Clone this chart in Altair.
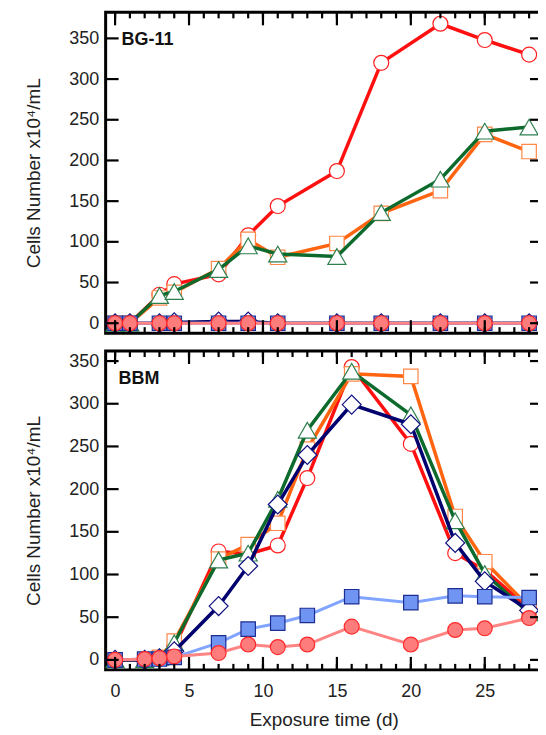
import altair as alt
import pandas as pd

# ---------------- data ----------------
days_bg11 = [0, 1, 3, 4, 7, 9, 11, 15, 18, 22, 25, 28]
bg11_red = [0, 0, 35, 48, 60, 108, 144, 187, 320, 368, 348, 330]
bg11_orange = [0, 0, 31, 38, 67, 103, 81, 98, 135, 163, 232, 211]
bg11_green = [0, 0, 34, 39, 66, 95, 85, 82, 136, 177, 236, 241]
bg11_navy = [0, 0, 0, 1, 2, 2, 0, 0, 0, 0, 0, 0]
bg11_blue = [0, 0, 0, 0, 0, 0, 0, 0, 0, 0, 0, 0]
bg11_pink = [0, 0, 0, 0, 0, 0, 0, 0, 0, 0, 0, 0]

days_bbm = [0, 2, 3, 4, 7, 9, 11, 13, 16, 20, 23, 25, 28]
bbm_red = [0, 0, 2, 15, 127, 124, 134, 213, 343, 253, 125, 105, 60]
bbm_orange = [0, 0, 3, 22, 118, 135, 160, 247, 335, 332, 168, 115, 62]
bbm_green = [0, 0, 3, 20, 117, 125, 188, 269, 338, 287, 163, 101, 55]
bbm_navy = [0, 0, 2, 10, 63, 110, 182, 240, 299, 276, 137, 92, 58]
bbm_blue = [0, 1, 1, 3, 20, 36, 43, 52, 74, 67, 75, 74, 73]
bbm_pink = [0, 1, 2, 4, 8, 18, 15, 18, 39, 18, 35, 37, 49]

x_ticks_minor = list(range(0, 29))
x_ticks_major = [0, 5, 10, 15, 20, 25]
y_ticks = [0, 50, 100, 150, 200, 250, 300, 350]

panel_labels = ["BG-11", "BBM"]
x_title = "Exposure time (d)"
y_title = "Cells Number x10\u2074/mL"

# ---------------- styles ----------------
FONT = "Liberation Sans"
W = 438
H_TOP = 322
H_BOT = 320
X_DOMAIN = [-0.64, 28.87]

STYLES = [
    # name, line colour, line width, shape, size, fill, stroke
    ("red", "#FF1010", 3.5, "circle", 225, "white", "#FF2020"),
    ("orange", "#FF6410", 3.5, "square", 210, "white", "#FF8848"),
    ("green", "#0C6A2C", 3.5, "triangle-up", 330, "white", "#2E7F4E"),
    ("navy", "#00006E", 3.5, "diamond", 360, "white", "#101080"),
    ("blue", "#80A4FF", 3.0, "square", 210, "#7094F2", "#1C2C90"),
    ("pink", "#FF8585", 3.0, "circle", 225, "#FF7C7C", "#FF2A2A"),
]


def frame_df(days, series_lists):
    rows = []
    for (name, *_), vals in zip(STYLES, series_lists):
        for d, v in zip(days, vals):
            rows.append({"day": d, "value": v, "series": name})
    return pd.DataFrame(rows)


def panel(df, ydomain, height, label, label_x, show_x):
    x_axis = (
        alt.Axis(values=x_ticks_major, ticks=False, tickSize=0, domain=False, grid=False,
                 labelFont=FONT, labelFontSize=18, labelColor="#222", labelPadding=13,
                 title=x_title, titleFont=FONT, titleFontSize=19, titleFontWeight="normal",
                 titleColor="#222", titlePadding=10)
        if show_x else None
    )
    y_axis = alt.Axis(values=y_ticks, ticks=False, tickSize=0, domain=False, grid=False,
                      labelFont=FONT, labelFontSize=18, labelColor="#222", labelPadding=7,
                      title=y_title, titleFont=FONT, titleFontSize=19, titleFontWeight="normal",
                      titleColor="#222", titlePadding=25)
    xe = alt.X("day:Q", scale=alt.Scale(domain=X_DOMAIN, nice=False, zero=False), axis=x_axis)
    ye = alt.Y("value:Q", scale=alt.Scale(domain=ydomain, nice=False, zero=False), axis=y_axis)

    layers = []
    for name, lc, lw, shape, size, fill, stroke in STYLES:
        d = df[df["series"] == name]
        layers.append(alt.Chart(d).mark_line(color=lc, strokeWidth=lw).encode(x=xe, y=ye))
        layers.append(
            alt.Chart(d).mark_point(shape=shape, size=size, filled=True, fill=fill, stroke=stroke,
                                    strokeWidth=1.2, opacity=1, fillOpacity=1).encode(x=xe, y=ye)
        )

    minor = pd.DataFrame({"day": x_ticks_minor})
    major = pd.DataFrame({"day": x_ticks_major})
    yt = pd.DataFrame({"value": y_ticks})
    tick_style = dict(color="black", strokeWidth=2.2)
    layers += [
        alt.Chart(minor).mark_rule(**tick_style).encode(x=xe, y=alt.value(height), y2=alt.value(height - 6)),
        alt.Chart(major).mark_rule(**tick_style).encode(x=xe, y=alt.value(height), y2=alt.value(height - 13)),
        alt.Chart(minor).mark_rule(**tick_style).encode(x=xe, y=alt.value(0), y2=alt.value(6)),
        alt.Chart(major).mark_rule(**tick_style).encode(x=xe, y=alt.value(0), y2=alt.value(13)),
        alt.Chart(yt).mark_rule(**tick_style).encode(y=ye, x=alt.value(0), x2=alt.value(13)),
        alt.Chart(yt).mark_rule(**tick_style).encode(y=ye, x=alt.value(W), x2=alt.value(W - 12)),
    ]
    lab = pd.DataFrame({"label": [label]})
    layers.append(
        alt.Chart(lab).mark_text(align="left", baseline="middle", font=FONT, fontSize=18,
                                 fontWeight="bold", color="#111")
        .encode(text="label:N", x=alt.value(label_x), y=alt.value(28))
    )
    return alt.layer(*layers).properties(width=W, height=height)


top_df = frame_df(days_bg11, [bg11_red, bg11_orange, bg11_green, bg11_navy, bg11_blue, bg11_pink])
bot_df = frame_df(days_bbm, [bbm_red, bbm_orange, bbm_green, bbm_navy, bbm_blue, bbm_pink])

top = panel(top_df, [-12.2, 382], H_TOP, panel_labels[0], 16, False)
bot = panel(bot_df, [-11.7, 361.7], H_BOT, panel_labels[1], 13, True)

chart = (
    alt.vconcat(top, bot, spacing=11)
    .properties(padding={"left": 15, "top": 0, "right": -7, "bottom": 0})
    .configure_view(stroke="black", strokeWidth=3)
)

chart.save("out.html", embed_options={"renderer": "svg", "actions": False})
